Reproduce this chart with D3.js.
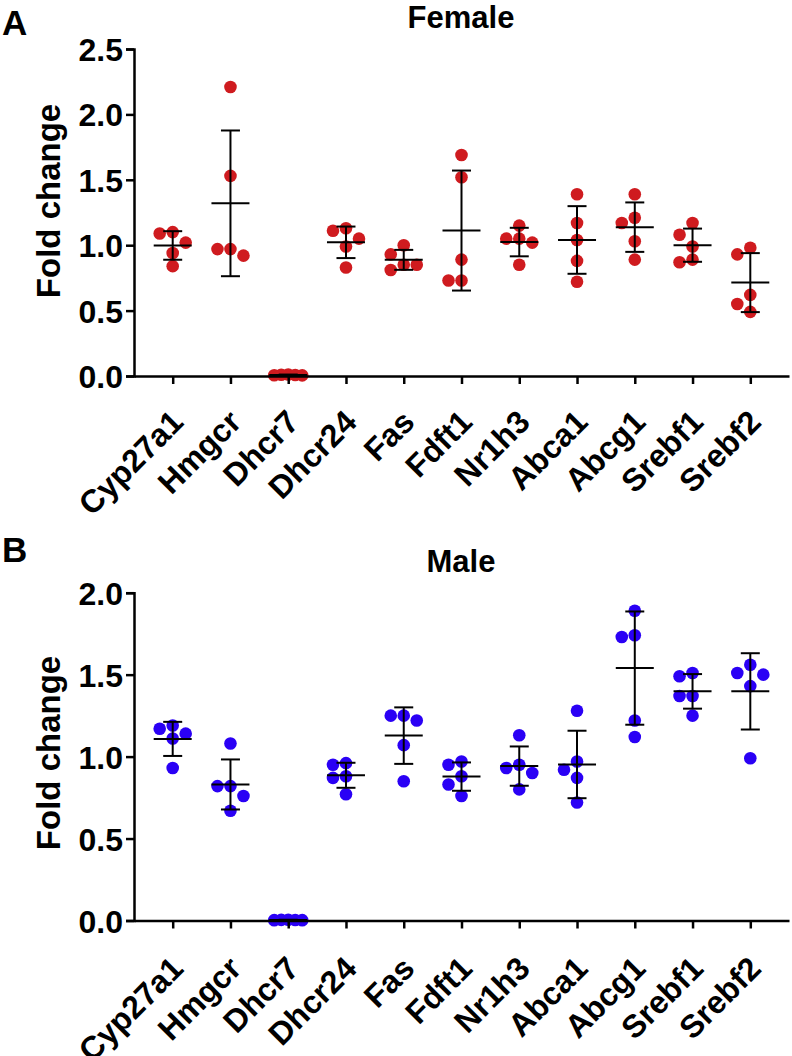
<!DOCTYPE html>
<html>
<head>
<meta charset="utf-8">
<script src="https://cdnjs.cloudflare.com/ajax/libs/d3/7.8.5/d3.min.js"></script>
<style>
  body { margin: 0; background: #fff; }
  text { font-family: "Liberation Sans", Arial, sans-serif; font-weight: bold; }
</style>
</head>
<body>
<div id="viz"></div>
<script>
// genes on the x axis (same for both panels)
var genes = ['Cyp27a1','Hmgcr','Dhcr7','Dhcr24','Fas','Fdft1','Nr1h3','Abca1','Abcg1','Srebf1','Srebf2'];

// fold change per animal (one row per gene)
var femaleFold = [
  [1.10, 1.09, 1.02, 0.94, 0.84],
  [2.21, 1.53, 0.97, 0.97, 0.92],
  [0.012, 0.010, 0.008, 0.006, 0.005],
  [1.13, 1.11, 1.05, 0.99, 0.83],
  [1.00, 0.93, 0.85, 0.85, 0.81],
  [1.69, 1.52, 0.89, 0.73, 0.73],
  [1.15, 1.05, 1.05, 1.02, 0.85],
  [1.39, 1.17, 1.04, 0.88, 0.72],
  [1.39, 1.21, 1.17, 1.03, 0.89],
  [1.17, 1.08, 0.99, 0.89, 0.87],
  [0.98, 0.93, 0.62, 0.55, 0.49]
];
var maleFold = [
  [1.19, 1.17, 1.14, 1.11, 0.93],
  [1.08, 0.82, 0.82, 0.76, 0.67],
  [0.005, 0.004, 0.003, 0.002, 0.002],
  [0.96, 0.95, 0.88, 0.87, 0.77],
  [1.25, 1.25, 1.22, 1.07, 0.85],
  [0.97, 0.95, 0.88, 0.83, 0.76],
  [1.13, 0.95, 0.93, 0.90, 0.80],
  [1.28, 0.97, 0.92, 0.87, 0.72],
  [1.89, 1.74, 1.73, 1.22, 1.12],
  [1.51, 1.49, 1.37, 1.37, 1.25],
  [1.56, 1.51, 1.50, 1.43, 0.99]
];
var femaleTicks = [0, 0.5, 1.0, 1.5, 2.0, 2.5];
var maleTicks = [0, 0.5, 1.0, 1.5, 2.0];

var svg = d3.select('#viz').append('svg')
    .attr('width', 792)
    .attr('height', 1056);

var R = 6.3, STEP = 13;

// simple beeswarm: highest value first, try centre then left / right
function dodge(vals, y) {
  var pts = vals.map(function(v){ return {v: v, y: y(v), dx: 0}; })
                .sort(function(a,b){ return b.v - a.v; });
  var placed = [];
  var cands = [0, -STEP, STEP, -2*STEP, 2*STEP, -3*STEP, 3*STEP];
  pts.forEach(function(p){
    for (var k=0; k<cands.length; k++) {
      var c = cands[k];
      var ok = placed.every(function(q){ return Math.hypot(q.dx - c, q.y - p.y) >= 2*R; });
      if (ok) { p.dx = c; break; }
    }
    placed.push(p);
  });
  var maxOff = d3.max(placed, function(p){ return Math.abs(p.dx); });
  if (maxOff > STEP*1.1) {
    placed.forEach(function(p){ p.dx = p.dx * 14 / maxOff; });
  }
  return placed;
}

function drawPanel(opt) {
  var x = d3.scalePoint().domain(genes).range([134, 789]).padding(0.67);
  var y = d3.scaleLinear().domain([0, d3.max(opt.ticks)]).range([opt.y0, opt.y1]);
  var g = svg.append('g');

  // panel letter and title
  g.append('text').attr('x', 2).attr('y', opt.letterY)
    .style('font-size', '35px').text(opt.letter);
  g.append('text').attr('x', 461).attr('y', opt.titleY)
    .attr('text-anchor', 'middle').style('font-size', '31px').text(opt.title);

  // y label
  g.append('text')
    .attr('transform', 'translate(60,' + opt.labelY + ') rotate(-90)')
    .attr('text-anchor', 'middle')
    .style('font-size', '33px')
    .text('Fold change');

  // points
  opt.data.forEach(function(vals, i){
    var cx = x(genes[i]);
    var pts = dodge(vals, y);
    g.selectAll('.dot' + i)
      .data(pts)
    .enter().append('circle')
      .attr('cx', function(d){ return cx + d.dx; })
      .attr('cy', function(d){ return d.y; })
      .attr('r', R)
      .attr('fill', opt.color);
  });

  // mean +/- SD
  opt.data.forEach(function(vals, i){
    var cx = x(genes[i]);
    var m = d3.mean(vals), sd = d3.deviation(vals);
    var eb = g.append('g').attr('stroke', '#000').attr('stroke-width', 2);
    eb.append('line').attr('x1', cx).attr('x2', cx).attr('y1', y(m - sd)).attr('y2', y(m + sd));
    eb.append('line').attr('x1', cx - 19).attr('x2', cx + 19).attr('y1', y(m)).attr('y2', y(m));
    [m - sd, m + sd].forEach(function(v){
      eb.append('line').attr('x1', cx - 9.5).attr('x2', cx + 9.5).attr('y1', y(v)).attr('y2', y(v));
    });
  });

  // axes
  var ya = g.append('g')
    .attr('transform', 'translate(134,0)')
    .call(d3.axisLeft(y).tickValues(opt.ticks).tickFormat(d3.format('.1f')).tickSize(8).tickPadding(3));
  ya.selectAll('text').style('font-size', '32px').attr('fill', '#000').attr('dy', '0.36em');

  var xa = g.append('g')
    .attr('transform', 'translate(0,' + opt.y0 + ')')
    .call(d3.axisBottom(x).tickSize(8).tickSizeOuter(0));
  xa.selectAll('text')
    .style('font-size', '32px')
    .attr('fill', '#000')
    .attr('text-anchor', 'end')
    .attr('dy', null)
    .attr('y', 0)
    .attr('transform', 'translate(12,' + opt.labelDrop + ') rotate(-45)');

  [ya, xa].forEach(function(a){
    a.selectAll('path, line').attr('stroke', '#000').attr('stroke-width', 2.5);
  });
}

drawPanel({
  letter: 'A', letterY: 35, title: 'Female', titleY: 28, labelY: 201, labelDrop: 48,
  y0: 376, y1: 49, ticks: femaleTicks, data: femaleFold, color: '#cf1b1f'
});
drawPanel({
  letter: 'B', letterY: 562, title: 'Male', titleY: 572, labelY: 753, labelDrop: 50,
  y0: 920.5, y1: 592.7, ticks: maleTicks, data: maleFold, color: '#2a00f5'
});
</script>
</body>
</html>
